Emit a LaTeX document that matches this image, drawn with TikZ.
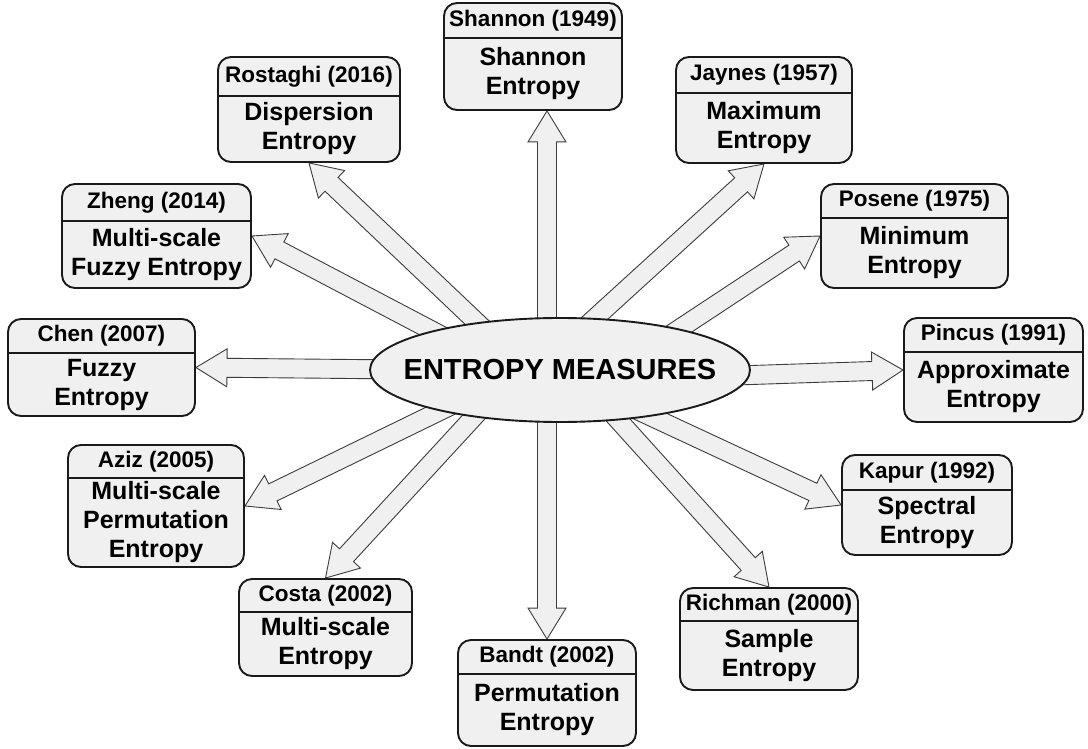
\documentclass[tikz,border=0pt]{standalone}
\usepackage{fontspec}
\setmainfont{Liberation Sans}
\usetikzlibrary{calc,backgrounds,shapes.geometric}

\definecolor{boxfill}{HTML}{F0F0F0}
\definecolor{edge}{HTML}{1A1A1A}
\definecolor{arrowedge}{HTML}{3C3C3C}

\tikzset{
  ebox/.style={draw=edge, line width=1.9pt, fill=boxfill, rounded corners=13pt, inner sep=0pt},
  divider/.style={draw=edge, line width=1.5pt},
  headtext/.style={font=\fontsize{22.5}{24}\selectfont\bfseries, inner sep=0pt},
  bodytext/.style={font=\fontsize{25}{29}\selectfont\bfseries, align=center, inner sep=0pt},
  blockarrow/.style={draw=arrowedge, line width=0.9pt, fill=boxfill, line join=miter},
  hub/.style={ellipse, draw=edge, line width=1.9pt, fill=boxfill, minimum width=380pt,
    minimum height=104pt, inner sep=0pt},
  hubtext/.style={inner sep=0pt, font=\fontsize{29}{32}\selectfont\bfseries}
}

% box with a header strip: name, x1, y1, x2, y2, divider y, header, body
\newcommand\entrybox[8]{%
  \node[ebox, minimum width={#4-#2}, minimum height={#5-#3}] (#1) at ({(#2+#4)/2},{(#3+#5)/2}) {};
  \draw[divider] (#2,#6) -- (#4,#6);
  \node[headtext] (#1-head) at ({(#2+#4)/2},{(#3+#6)/2}) {#7};
  \node[bodytext] (#1-body) at ({(#2+#4)/2},{(#6+#5)/2}) {#8};
}

% hollow block arrow from #1 to #2
\def\shaftw{9.5pt}
\def\headw{19pt}
\def\headlen{31pt}
\newcommand\blockarrow[2]{%
  \draw[blockarrow] let \p1=(#1), \p2=(#2),
      \n1={atan2(\y2-\y1,\x2-\x1)},
      \n2={veclen(\x2-\x1,\y2-\y1)-\headlen} in
    ($(\p1)+(\n1+90:\shaftw)$)
    -- ($(\p1)+(\n1:\n2)+(\n1+90:\shaftw)$)
    -- ($(\p1)+(\n1:\n2)+(\n1+90:\headw)$)
    -- (\p2)
    -- ($(\p1)+(\n1:\n2)+(\n1-90:\headw)$)
    -- ($(\p1)+(\n1:\n2)+(\n1-90:\shaftw)$)
    -- ($(\p1)+(\n1-90:\shaftw)$) -- cycle;
}

\begin{document}
\begin{tikzpicture}[x=1pt, y=-1pt]
  \useasboundingbox (0,0) rectangle (1088,749);

  \entrybox{shan}{444}{3}{622}{110}{38}{Shannon (1949)}{Shannon\\Entropy}
  \entrybox{rost}{218}{57}{400}{162}{96}{Rostaghi (2016)}{Dispersion\\Entropy}
  \entrybox{jayn}{676}{57}{852}{163}{93}{Jaynes (1957)}{Maximum\\Entropy}
  \entrybox{zhen}{62}{184}{251}{288}{221}{Zheng (2014)}{Multi-scale\\Fuzzy Entropy}
  \entrybox{pose}{821}{184}{1008}{288}{218}{Posene (1975)}{Minimum\\Entropy}
  \entrybox{chen}{8}{319}{195}{416}{353}{Chen (2007)}{Fuzzy\\Entropy}
  \entrybox{pinc}{904}{318}{1083}{422}{352}{Pincus (1991)}{Approximate\\Entropy}
  \entrybox{aziz}{68}{445}{244}{567}{478}{Aziz (2005)}{Multi-scale\\Permutation\\Entropy}
  \entrybox{kapu}{842}{455}{1012}{555}{490}{Kapur (1992)}{Spectral\\Entropy}
  \entrybox{cost}{239}{579}{412}{676}{612}{Costa (2002)}{Multi-scale\\Entropy}
  \entrybox{rich}{680}{588}{858}{690}{621}{Richman (2000)}{Sample\\Entropy}
  \entrybox{band}{458}{640}{636}{746}{674}{Bandt (2002)}{Permutation\\Entropy}

  \node[hub] (hub) at (560,370) {};
  \node[hubtext] (hub-text) at (hub.center) {ENTROPY MEASURES};

  % arrow roots, hidden under the central ellipse
  \coordinate (o-shan) at (547,370);
  \coordinate (o-band) at (547,370);
  \coordinate (o-rost) at (527,370);
  \coordinate (o-jayn) at (538,370);
  \coordinate (o-zhen) at (507,370);
  \coordinate (o-pose) at (617,370);
  \coordinate (o-chen) at (560,371);
  \coordinate (o-pinc) at (600,380);
  \coordinate (o-aziz) at (524,370);
  \coordinate (o-cost) at (517,370);
  \coordinate (o-kapu) at (551,370);
  \coordinate (o-rich) at (573,370);

  \begin{scope}[on background layer]
    \fill[white] (0,0) rectangle (1088,749);
    \blockarrow{o-shan}{o-shan |- shan.south}
    \blockarrow{o-band}{o-band |- band.north}
    \blockarrow{o-rost}{rost.south}
    \blockarrow{o-jayn}{jayn.south}
    \blockarrow{o-zhen}{zhen.east}
    \blockarrow{o-pose}{pose.west}
    \blockarrow{o-chen}{chen.east}
    \blockarrow{o-pinc}{pinc.west}
    \blockarrow{o-aziz}{aziz.east}
    \blockarrow{o-cost}{cost.north}
    \blockarrow{o-kapu}{kapu.west}
    \blockarrow{o-rich}{rich.north}
  \end{scope}
\end{tikzpicture}
\end{document}
